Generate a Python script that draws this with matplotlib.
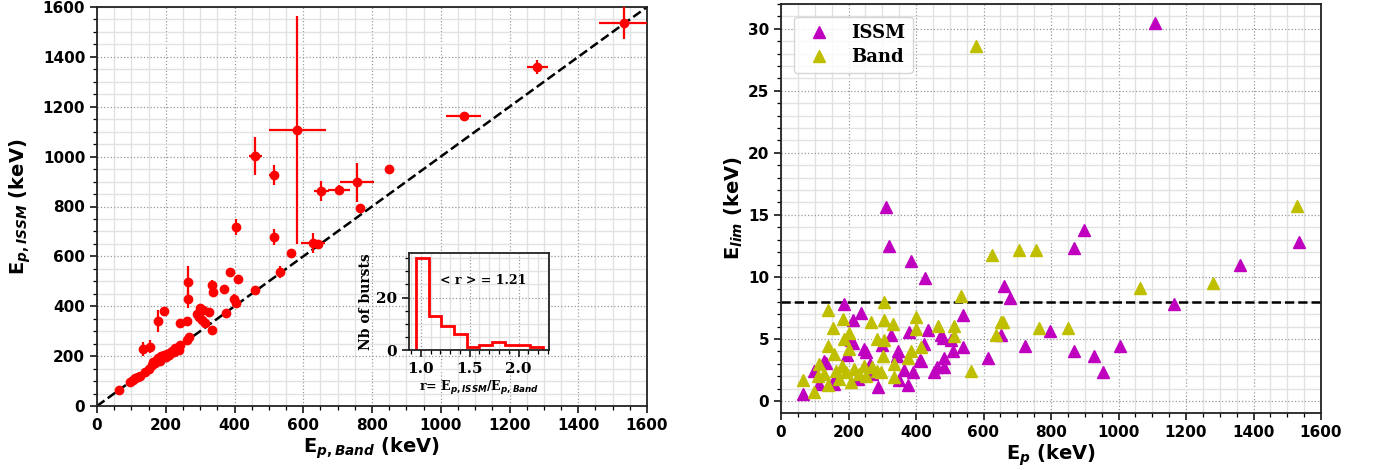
import matplotlib
matplotlib.use('Agg')
import matplotlib.pyplot as plt
from matplotlib.ticker import AutoMinorLocator, MultipleLocator

plt.rcParams['font.weight'] = 'bold'
plt.rcParams['axes.labelweight'] = 'bold'
plt.rcParams['mathtext.fontset'] = 'custom'
plt.rcParams['mathtext.it'] = 'DejaVu Sans:italic:bold'
plt.rcParams['mathtext.rm'] = 'DejaVu Sans:bold'
plt.rcParams['mathtext.bf'] = 'DejaVu Sans:bold'

# Peak energies (keV): Band fit vs ISSM fit, with 1-sigma errors
ep_band = [65, 96, 104, 111, 118, 126, 140, 135, 155, 150, 160, 164, 170, 175, 178,
           183, 188, 190, 196, 200, 205, 211, 215, 218, 225, 232, 238, 242, 262, 267,
           177, 196, 242, 262, 265, 265, 290, 296, 301, 306, 308, 315, 325, 335, 335,
           338, 369, 374, 388, 411, 398, 405, 403, 461, 461, 515, 515, 532, 565, 583,
           627, 643, 653, 705, 756, 766, 850, 1067, 1281, 1532, 172, 186, 208, 228]
ep_issm = [64, 97, 103, 111, 117, 121, 137, 227, 238, 150, 165, 178, 172, 185, 191,
           180, 192, 198, 204, 195, 210, 211, 218, 222, 218, 228, 225, 245, 265, 278,
           341, 381, 334, 342, 499, 429, 370, 358, 393, 345, 385, 332, 378, 305, 485,
           458, 468, 372, 536, 508, 428, 413, 719, 465, 1002, 926, 679, 538, 612, 1107,
           652, 650, 863, 866, 897, 793, 950, 1163, 1361, 1535, 182, 200, 205, 232]
err_band = [3, 3, 3, 3, 3, 3, 4, 4, 4, 4, 4, 4, 4, 4, 4,
            4, 4, 4, 4, 4, 4, 4, 4, 4, 4, 4, 4, 4, 5, 5,
            4, 4, 5, 5, 4, 4, 5, 5, 5, 5, 5, 5, 5, 5, 4,
            5, 6, 6, 5, 6, 5, 6, 6, 8, 20, 15, 12, 6, 8, 82,
            35, 10, 22, 32, 50, 10, 12, 51, 31, 73, 4, 4, 4, 4]
err_issm = [3, 3, 3, 3, 3, 3, 4, 28, 25, 4, 4, 4, 4, 4, 4,
            4, 4, 4, 4, 4, 4, 4, 4, 4, 4, 4, 4, 4, 5, 5,
            44, 15, 5, 5, 63, 35, 5, 5, 5, 5, 5, 5, 5, 5, 20,
            6, 6, 6, 12, 6, 20, 6, 32, 8, 75, 40, 32, 25, 8, 457,
            40, 10, 40, 20, 79, 10, 12, 15, 28, 63, 4, 4, 4, 4]

# Distribution of r = Ep,ISSM / Ep,Band
r_edges = [0.95, 1.08, 1.21, 1.34, 1.47, 1.60, 1.73, 1.86, 1.99, 2.12, 2.25]
r_counts = [35, 13, 9, 6, 1, 2, 3, 2, 2, 1]
r_mean = 1.21

# Limiting energy vs peak energy for each model
issm_ep = [1108, 898, 869, 1536, 1361, 1163, 660, 679, 798, 722, 869, 926, 953, 1005,
           311, 320, 385, 428, 188, 237, 212, 208, 247, 128, 99, 114, 65, 162, 227,
           326, 380, 435, 474, 503, 346, 252, 415, 484, 454, 350, 375, 287, 390, 538,
           652, 538, 509, 484, 612, 479, 133, 158, 264, 424, 212, 365, 413, 461, 345,
           300, 270, 195]
issm_elim = [30.5, 13.8, 12.3, 12.85, 11.0, 7.8, 9.3, 8.3, 5.6, 4.4, 4.0, 3.6, 2.3, 4.4,
             15.6, 12.5, 11.3, 9.9, 7.8, 7.1, 6.5, 4.9, 4.2, 3.25, 2.45, 1.35, 0.55, 2.0, 1.75,
             5.3, 5.55, 5.7, 5.3, 4.9, 4.05, 3.95, 3.25, 2.7, 2.3, 1.65, 1.25, 1.1, 2.3, 6.9,
             5.3, 4.35, 4.05, 3.5, 3.5, 5.1, 3.1, 1.4, 3.0, 4.6, 4.65, 2.5, 3.3, 2.7, 3.6,
             4.5, 2.2, 3.7]
band_ep = [578, 1529, 706, 756, 1065, 1279, 765, 850, 657, 625, 534, 514, 514, 652, 637,
           563, 306, 266, 306, 331, 400, 400, 464, 306, 415, 385, 375, 302, 247, 271,
           297, 336, 336, 138, 65, 99, 153, 183, 138, 188, 114, 109, 138, 162, 193,
           208, 173, 217, 232, 252, 283, 202, 156, 126, 200, 285, 180]
band_elim = [28.6, 15.7, 12.2, 12.2, 9.1, 9.5, 5.9, 5.9, 6.4, 11.8, 8.5, 6.05, 5.25, 6.35, 5.3,
             2.45, 8.0, 6.35, 6.5, 6.2, 6.75, 5.8, 6.05, 4.9, 4.35, 4.05, 3.5, 3.65, 2.85, 2.7,
             2.3, 3.0, 1.9, 7.35, 1.65, 0.7, 5.85, 6.6, 4.45, 5.0, 3.0, 2.05, 1.25, 2.45, 2.3,
             1.5, 1.8, 2.6, 2.2, 2.0, 2.4, 4.2, 3.8, 2.2, 5.5, 5.0, 2.8]
elim_cut = 8.0

serif = {'family': 'DejaVu Serif', 'weight': 'bold'}


def style_axes(ax, minor_x=4, minor_y=4, size=11):
    ax.xaxis.set_minor_locator(AutoMinorLocator(minor_x))
    ax.yaxis.set_minor_locator(AutoMinorLocator(minor_y))
    ax.grid(which='major', ls=':', color='#999999', lw=0.9)
    ax.grid(which='minor', ls='-', color='#e2e2e2', lw=1.0)
    ax.set_axisbelow(True)
    ax.tick_params(which='major', length=5, width=1.1, labelsize=size)
    ax.tick_params(which='minor', length=3, width=0.9)
    for s in ax.spines.values():
        s.set_linewidth(1.3)
        s.set_color('#222222')


fig = plt.figure(figsize=(13.73, 4.70), dpi=100)

# left: Ep ISSM vs Ep Band
ax1 = fig.add_axes([97 / 1373, 64 / 470, 550 / 1373, 399 / 470])
ax1.plot([0, 1600], [0, 1600], 'k--', lw=1.8, zorder=2)
ax1.errorbar(ep_band, ep_issm, xerr=err_band, yerr=err_issm, fmt='o', color='red',
             ms=6, elinewidth=1.6, capsize=0, zorder=3)
ax1.set_xlim(0, 1600)
ax1.set_ylim(0, 1600)
ax1.xaxis.set_major_locator(MultipleLocator(200))
ax1.yaxis.set_major_locator(MultipleLocator(200))
style_axes(ax1)
ax1.set_xlabel(r'E$_{p,Band}$ (keV)', fontsize=14, labelpad=2)
ax1.set_ylabel(r'E$_{p,ISSM}$ (keV)', fontsize=14, labelpad=7)

# inset histogram of the ratio
axi = fig.add_axes([409 / 1373, 120 / 470, 140 / 1373, 97 / 470])
axi.stairs(r_counts, r_edges, color='red', lw=2)
axi.set_xlim(0.88, 2.31)
axi.set_ylim(0, 37)
axi.xaxis.set_major_locator(MultipleLocator(0.5))
axi.yaxis.set_major_locator(MultipleLocator(20))
style_axes(axi, minor_x=5, minor_y=4)
for lab in axi.get_xticklabels() + axi.get_yticklabels():
    lab.set_fontfamily('DejaVu Serif')
    lab.set_fontweight('bold')
axi.set_ylabel('Nb of bursts', fontsize=10, labelpad=2, **serif)
axi.set_xlabel(r'r= E$_{p,ISSM}$/E$_{p,Band}$', fontsize=9, labelpad=2, **serif)
axi.text(0.53, 0.72, f'< r > = {r_mean:.2f}', transform=axi.transAxes,
         ha='center', va='center', fontsize=9, **serif)

# right: Elim vs Ep
ax2 = fig.add_axes([781 / 1373, 57 / 470, 540 / 1373, 409 / 470])
ax2.plot(issm_ep, issm_elim, '^', color='m', ms=9, ls='none', label='ISSM', zorder=3)
ax2.plot(band_ep, band_elim, '^', color='y', ms=9, ls='none', label='Band', zorder=3)
ax2.axhline(elim_cut, color='k', ls='--', lw=1.8, zorder=2)
ax2.set_xlim(0, 1600)
ax2.set_ylim(-0.97, 32.0)
ax2.xaxis.set_major_locator(MultipleLocator(200))
ax2.yaxis.set_major_locator(MultipleLocator(5))
style_axes(ax2, minor_x=4, minor_y=5)
ax2.set_xlabel(r'E$_{p}$ (keV)', fontsize=14, labelpad=2)
ax2.set_ylabel(r'E$_{lim}$ (keV)', fontsize=14, labelpad=2)
ax2.legend(loc='upper left', borderaxespad=0.7, labelspacing=0.35,
           prop={'family': 'DejaVu Serif', 'weight': 'bold', 'size': 13})

fig.savefig('out.png', dpi=100)
